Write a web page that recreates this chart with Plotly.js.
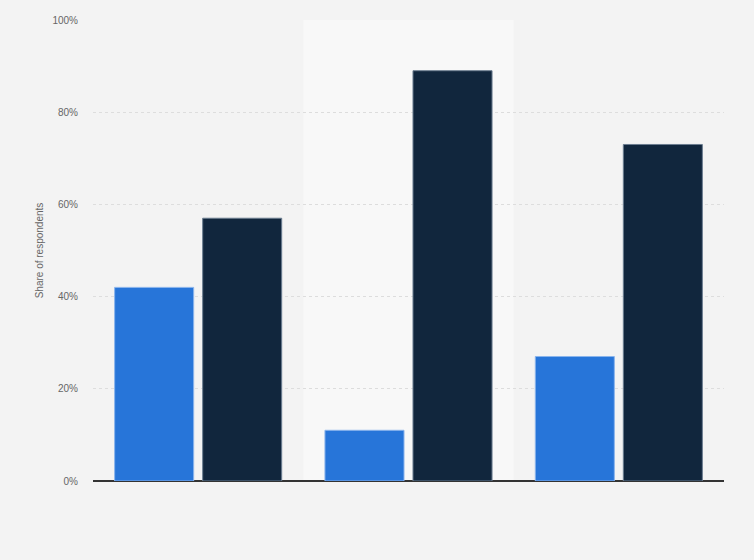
<!DOCTYPE html>
<html>
<head>
<meta charset="utf-8">
<script src="https://cdn.plot.ly/plotly-3.0.1.min.js"></script>
<style>
  html, body { margin: 0; padding: 0; background: #f3f3f3; }
  #chart { width: 754px; height: 560px; }
</style>
</head>
<body>
<div id="chart"></div>
<script>
// three unlabeled groups, two series each
var categories = ['A', 'B', 'C'];
var seriesBlue = [42, 11, 27];
var seriesDark = [57, 89, 73];
var yTicks = [0, 20, 40, 60, 80, 100];
var yTickLabels = ['0%', '20%', '40%', '60%', '80%', '100%'];

var blueBars = {
  x: categories,
  y: seriesBlue,
  type: 'bar',
  name: 'Series 1',
  marker: { color: '#2775d9', line: { color: '#8ab4ec', width: 1 } },
  hoverinfo: 'y'
};

var darkBars = {
  x: categories,
  y: seriesDark,
  type: 'bar',
  name: 'Series 2',
  marker: { color: '#11263d', line: { color: '#6b7d90', width: 1 } },
  hoverinfo: 'y'
};

var layout = {
  width: 754,
  height: 560,
  paper_bgcolor: '#f3f3f3',
  plot_bgcolor: '#f3f3f3',
  margin: { l: 93, r: 30, t: 20, b: 79 },
  showlegend: false,
  barmode: 'group',
  bargap: 0.163,
  bargroupgap: 0.102,
  font: { family: 'Arial, "Liberation Sans", sans-serif', color: '#666666', size: 10 },
  xaxis: {
    showticklabels: false,
    ticks: '',
    showgrid: false,
    zeroline: false,
    showline: false
  },
  yaxis: {
    range: [0, 100],
    tickvals: yTicks,
    ticktext: yTickLabels,
    ticks: '',
    ticklabelstandoff: 14,
    showgrid: true,
    gridcolor: '#dddddd',
    griddash: 'dot',
    gridwidth: 1,
    zeroline: true,
    zerolinecolor: '#333333',
    zerolinewidth: 1.5,
    title: { text: 'Share of respondents', font: { size: 10, color: '#666666' }, standoff: 6 }
  },
  shapes: [{
    type: 'rect',
    xref: 'x',
    yref: 'paper',
    x0: 0.5, x1: 1.5,
    y0: 0, y1: 1,
    fillcolor: '#f8f8f8',
    line: { width: 0 },
    layer: 'below'
  }]
};

Plotly.newPlot('chart', [blueBars, darkBars], layout, { displayModeBar: false, staticPlot: true });
</script>
</body>
</html>
